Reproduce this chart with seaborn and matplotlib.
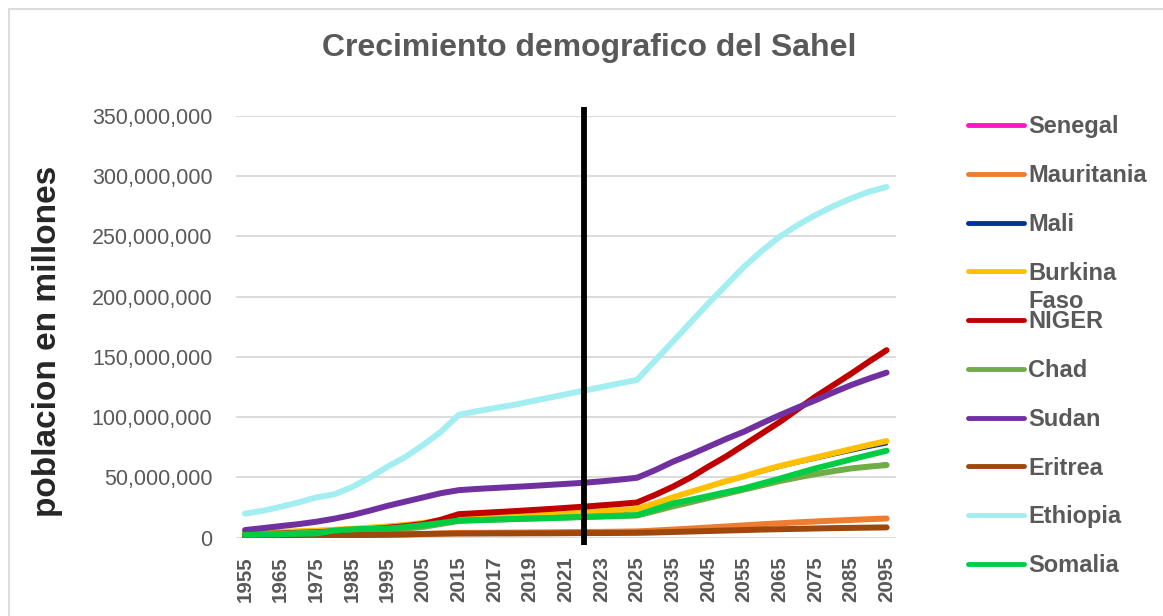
import numpy as np
import pandas as pd
import matplotlib
matplotlib.use("Agg")
import matplotlib.pyplot as plt
from matplotlib.patches import Rectangle
import seaborn as sns

# ---- data (population, millions) ----
years = ([str(y) for y in range(1955, 2016, 5)] +
         [str(y) for y in range(2016, 2026)] +
         [str(y) for y in range(2030, 2096, 5)])

senegal = [2.7, 3.0, 3.4, 3.9, 4.5, 5.2, 6.0, 7.0, 8.0, 9.2, 10.5, 12.3, 14.3,
           14.7, 15.1, 15.5, 15.9, 16.3, 16.8, 17.2, 17.7, 18.2, 18.6,
           22.0, 25.8, 29.3, 32.8, 36.3, 39.8, 43.2, 46.6, 49.6, 52.5, 55.0, 57.5, 59.7, 61.6]
mauritania = [0.8, 0.9, 1.0, 1.1, 1.3, 1.5, 1.7, 2.0, 2.3, 2.6, 3.0, 3.5, 4.0,
              4.1, 4.2, 4.3, 4.4, 4.5, 4.7, 4.8, 4.9, 5.1, 5.3,
              6.0, 6.8, 7.6, 8.5, 9.4, 10.3, 11.2, 12.0, 12.8, 13.5, 14.2, 14.8, 15.4, 16.0]
mali = [4.8, 5.1, 5.5, 5.9, 6.4, 6.9, 7.5, 8.3, 9.0, 10.0, 11.5, 13.5, 15.8,
        16.3, 16.8, 17.3, 17.8, 18.4, 18.9, 19.5, 20.1, 20.8, 23.6,
        28.0, 32.8, 37.3, 41.7, 46.1, 50.1, 54.4, 58.3, 61.8, 65.1, 68.4, 71.6, 74.8, 77.7]
burkina = [4.3, 4.6, 5.0, 5.4, 5.9, 6.6, 7.4, 8.4, 9.4, 10.7, 12.3, 14.3, 17.0,
           17.6, 18.2, 18.8, 19.3, 19.9, 20.5, 21.2, 22.0, 22.8, 24.0,
           28.5, 33.5, 38.0, 42.5, 47.0, 51.0, 55.5, 59.5, 63.0, 66.5, 70.0, 73.5, 77.0, 80.2]
niger = [2.9, 3.2, 3.6, 4.1, 4.6, 5.3, 6.1, 7.1, 8.3, 9.7, 11.5, 15.0, 19.6,
         20.4, 21.2, 22.0, 22.9, 23.8, 24.8, 25.8, 26.9, 28.0, 29.3,
         35.5, 42.3, 50.0, 59.0, 67.5, 77.0, 86.5, 96.0, 106.5, 117.0, 126.5, 136.0, 146.0, 155.6]
chad = [3.0, 3.2, 3.5, 3.8, 4.2, 4.6, 5.1, 5.8, 6.5, 7.6, 9.0, 11.5, 14.0,
        14.5, 15.0, 15.5, 16.0, 16.3, 16.8, 17.2, 17.6, 18.0, 18.5,
        22.2, 26.0, 29.5, 33.0, 36.5, 40.0, 43.5, 47.0, 50.0, 52.8, 55.2, 57.5, 59.0, 60.3]
sudan = [6.4, 8.0, 9.7, 11.3, 13.3, 15.8, 18.8, 22.5, 26.5, 30.0, 33.5, 37.0, 39.5,
         40.5, 41.3, 42.1, 42.9, 43.8, 44.7, 45.6, 46.8, 48.2, 49.8,
         56.0, 63.0, 69.0, 75.5, 82.0, 88.0, 95.0, 101.7, 108.0, 114.0, 120.5, 126.6, 132.0, 137.0]
eritrea = [1.2, 1.3, 1.4, 1.6, 1.8, 2.0, 2.2, 2.4, 2.6, 2.9, 3.2, 3.4, 3.5,
           3.5, 3.6, 3.6, 3.7, 3.7, 3.8, 3.9, 3.9, 4.0, 4.1,
           4.4, 4.8, 5.2, 5.6, 6.0, 6.4, 6.8, 7.1, 7.4, 7.7, 8.0, 8.2, 8.4, 8.6]
ethiopia = [20.0, 22.4, 25.7, 29.3, 33.5, 36.0, 42.0, 50.0, 59.0, 67.0, 77.0, 88.0, 102.0,
            105.0, 107.5, 110.0, 113.0, 116.0, 119.0, 122.0, 125.0, 128.0, 131.0,
            146.8, 162.6, 178.6, 194.4, 209.6, 224.8, 238.0, 249.7, 259.3, 267.6, 275.0, 281.4, 287.0, 291.0]
somalia = [2.4, 2.7, 3.0, 3.3, 3.6, 6.0, 7.0, 7.4, 7.7, 8.9, 10.5, 12.3, 14.3,
           14.7, 15.1, 15.5, 15.9, 16.3, 16.8, 17.3, 17.8, 18.3, 18.8,
           23.5, 28.5, 31.5, 34.6, 37.8, 41.0, 45.0, 49.0, 53.3, 57.5, 61.2, 65.0, 68.6, 72.2]

countries = ["Senegal", "Mauritania", "Mali", "Burkina Faso", "NIGER",
             "Chad", "Sudan", "Eritrea", "Ethiopia", "Somalia"]
series = [senegal, mauritania, mali, burkina, niger, chad, sudan, eritrea, ethiopia, somalia]
colors = ["#ff14c8", "#ed7d31", "#003399", "#ffc000", "#c00000",
          "#70ad47", "#7030a0", "#9e480e", "#a3eef0", "#00cc44"]
widths = [2.0, 4.3, 2.0, 4.3, 4.3, 4.3, 4.3, 4.3, 4.3, 4.3]

title = "Crecimiento demografico del Sahel"
ylabel = "poblacion en millones"

# ---- long table ----
rows = []
for name, vals in zip(countries, series):
    for i, (yr, v) in enumerate(zip(years, vals)):
        rows.append({"idx": i, "year": yr, "country": name, "pop": v * 1e6})
df = pd.DataFrame(rows)

sns.set_theme(style="white")
plt.rcParams['font.family'] = ['Liberation Sans', 'DejaVu Sans']

fig = plt.figure(figsize=(11.63, 6.16), dpi=100)
ax = fig.add_axes([0.203, 0.127, 0.567, 0.685])

for name, col, lw in zip(countries, colors, widths):
    sns.lineplot(data=df[df["country"] == name], x="idx", y="pop", ax=ax,
                 color=col, linewidth=lw, label=name.split(" ")[0],
                 solid_capstyle="round", solid_joinstyle="round")

# vertical marker line (year 2022, between 2021 and 2023)
mpos = (years.index("2021") + years.index("2023")) / 2
ax.vlines(mpos, -6e6, 357e6, color="black", linewidth=4.2, clip_on=False, zorder=10)

ax.set_xlim(-0.5, len(years) - 0.5)
ax.set_ylim(0, 350e6)
yt = np.arange(0, 350e6 + 1, 50e6)
ax.set_yticks(yt)
ax.set_yticklabels([f"{int(v):,}" for v in yt], fontsize=15.5, color="#595959")
ax.set_xticks(range(0, len(years), 2))
ax.set_xticklabels(years[::2], rotation=90, fontsize=14.8, fontweight="bold",
                   color="#595959")
ax.tick_params(axis="x", length=0, pad=13.5)
ax.tick_params(axis="y", length=0, pad=17)
ax.grid(axis="y", color="#d9d9d9", linewidth=1.3)
ax.set_axisbelow(True)
for s in ax.spines.values():
    s.set_visible(False)
ax.set_xlabel("")
ax.set_ylabel("")

fig.text(48 / 1163, 0.446, ylabel, rotation=90, ha="center", va="center",
         fontsize=24, fontweight="bold", color="#262626")
fig.text(0.507, 0.922, title, ha="center", va="center", fontsize=23,
         fontweight="bold", color="#595959")

leg = ax.legend(loc="upper left", bbox_to_anchor=(0.824, 0.828),
                bbox_transform=fig.transFigure, frameon=False,
                fontsize=17, handlelength=2.4, handletextpad=0.15,
                labelspacing=1.09, borderaxespad=0)
for t in leg.get_texts():
    t.set_fontweight("bold")
    t.set_color("#595959")
for h in leg.get_lines():
    h.set_linewidth(3.5)

# second line of "Burkina Faso" label hangs below the entry, as in the source
fig.canvas.draw()
bf_text = leg.get_texts()[countries.index("Burkina Faso")]
bb = bf_text.get_window_extent().transformed(fig.transFigure.inverted())
fig.text(bb.x0, bb.y0 - 0.008, countries[3].split(" ")[1], ha="left", va="top",
         fontsize=17, fontweight="bold", color="#595959")

fig.patches.append(Rectangle((9 / 1163, -0.1), 1.2, 1.1 - 9 / 616,
                             transform=fig.transFigure, fill=False,
                             edgecolor="#d9d9d9", linewidth=1.3))

fig.savefig("out.png", dpi=100, facecolor="white")
